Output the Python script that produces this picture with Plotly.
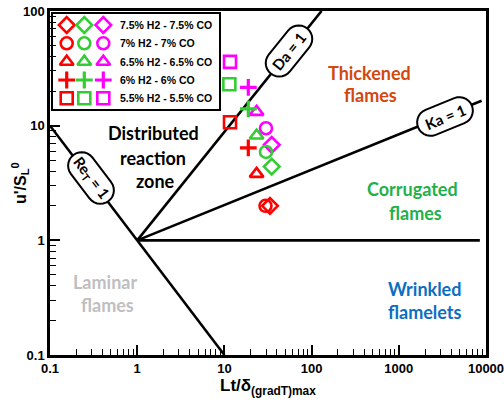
import math
import plotly.graph_objects as go

# ---------------- data ----------------
groups = ["7.5% H2 - 7.5% CO", "7% H2 - 7% CO", "6.5% H2 - 6.5% CO",
          "6% H2 - 6% CO", "5.5% H2 - 5.5% CO"]
symbols = ["diamond-open", "circle-open", "triangle-up-open", "cross-thin", "square-open"]
series_colors = ["#ff0000", "#33cc33", "#ff00ff"]  # red, green, magenta

# Lt/delta values for each group (red, green, magenta)
lt_vals = [
    [33.3, 34.9, 34.9],
    [29.6, 30.0, 30.0],
    [23.4, 23.4, 23.4],
    [18.8, 18.8, 18.8],
    [11.6, 11.4, 11.6],
]
# u'/SL values for each group (red, green, magenta)
u_vals = [
    [2.0, 4.4, 6.8],
    [2.0, 5.9, 9.5],
    [3.8, 8.2, 13.2],
    [6.4, 14.0, 21.6],
    [10.7, 23.0, 36.0],
]

# regime boundary lines
re_x, re_y = [0.1, 10], [10, 0.1]
da_x, da_y = [1, 130], [1, 100]
ka_x, ka_y = [1, 8900], [1, 16.5]
hz_x, hz_y = [1, 8500], [1, 1]

# ---------------- layout helpers ----------------
WIDTH, HEIGHT = 504, 405
ML, MR, MT, MB = 50, 18, 11, 50
PW = WIDTH - ML - MR
PH = HEIGHT - MT - MB


def px(x):
    return (x - ML) / PW


def py(y):
    return (MT + PH - y) / PH


def pill_path(cx, cy, length, height, angle_deg, n=14):
    r = height / 2.0
    a = length / 2.0 - r
    pts = []
    for i in range(n + 1):
        t = -math.pi / 2 + math.pi * i / n
        pts.append((a + r * math.cos(t), r * math.sin(t)))
    for i in range(n + 1):
        t = math.pi / 2 + math.pi * i / n
        pts.append((-a + r * math.cos(t), r * math.sin(t)))
    th = math.radians(angle_deg)
    out = []
    for (x, y) in pts:
        xr = x * math.cos(th) - y * math.sin(th) + cx
        yr = x * math.sin(th) + y * math.cos(th) + cy
        out.append((px(xr), py(yr)))
    d = "M " + " L ".join(f"{x:.5f},{y:.5f}" for x, y in out) + " Z"
    return d


def marker_style(sym, col):
    if sym == "cross-thin":
        return dict(symbol=sym, size=12, color=col, line=dict(color=col, width=3.2))
    return dict(symbol=sym, size=12, color=col, line=dict(color=col, width=2.6))


fig = go.Figure()

line_style = dict(color="black", width=2.6)
for lx, ly in [(re_x, re_y), (da_x, da_y), (ka_x, ka_y), (hz_x, hz_y)]:
    fig.add_trace(go.Scatter(x=lx, y=ly, mode="lines", line=line_style,
                             showlegend=False, hoverinfo="skip"))

for gi, g in enumerate(groups):
    for ci, col in enumerate(series_colors):
        fig.add_trace(go.Scatter(
            x=[lt_vals[gi][ci]], y=[u_vals[gi][ci]], mode="markers",
            marker=marker_style(symbols[gi], col), name=g, showlegend=False))

# custom legend (overlay axes in paper-like fractions)
leg_rows_y = [25, 43.3, 61.7, 80, 98.3]
leg_cols_x = [66.7, 84.3, 103.3]
for gi, g in enumerate(groups):
    for ci, col in enumerate(series_colors):
        fig.add_trace(go.Scatter(
            x=[px(leg_cols_x[ci])], y=[py(leg_rows_y[gi])], xaxis="x2", yaxis="y2",
            mode="markers", marker=marker_style(symbols[gi], col),
            showlegend=False, hoverinfo="skip"))

shapes = [
    dict(type="rect", xref="paper", yref="paper", x0=px(52), x1=px(220),
         y0=py(110), y1=py(13), line=dict(color="black", width=2),
         fillcolor="white", layer="below"),
]
boxes = [
    (91, 178, 58, 27, 52.7),
    (289, 51, 58, 27, -51.0),
    (445, 116.5, 58, 27, -22.1),
]
for cx, cy, ln, ht, ang in boxes:
    shapes.append(dict(type="path", xref="paper", yref="paper",
                       path=pill_path(cx, cy, ln, ht, ang),
                       line=dict(color="black", width=2), fillcolor="white", layer="above"))

FONT = "Lato, 'Open Sans', sans-serif"
annotations = []


def label(text, x, y, color, size=18, angle=0, fam=FONT, xanchor="center"):
    annotations.append(dict(text=text, x=px(x), y=py(y), xref="paper", yref="paper",
                            showarrow=False, textangle=angle, xanchor=xanchor, yanchor="middle",
                            font=dict(family=fam, size=size, color=color)))


label("<b>Re<sub>T</sub> = 1</b>", 91, 178, "black", size=15, angle=52.7)
label("<b>Da = 1</b>", 289, 51, "black", size=15, angle=-51.0)
label("<b>Ka = 1</b>", 445, 116.5, "black", size=15, angle=-22.1)

label("<b>Distributed</b>", 153, 133, "black")
label("<b>reaction</b>", 153, 158, "black")
label("<b>zone</b>", 155, 181, "black")
label("<b>Thickened</b>", 369, 73, "#d2480f")
label("<b>flames</b>", 370, 95, "#d2480f")
label("<b>Corrugated</b>", 412, 189, "#1fb14c")
label("<b>flames</b>", 415, 213, "#1fb14c")
label("<b>Laminar</b>", 105, 282, "#bfbfbf")
label("<b>flames</b>", 107, 305, "#bfbfbf")
label("<b>Wrinkled</b>", 424, 289, "#0a6fc2")
label("<b>flamelets</b>", 425, 312, "#0a6fc2")

ARIAL = "Liberation Sans, Arial, sans-serif"
for gi, g in enumerate(groups):
    label(f"<b>{g}</b>", 118, leg_rows_y[gi], "black", 10.5, fam=ARIAL, xanchor="left")

label("<b>u'/S<sub>L</sub><sup>0</sup></b>", 20, 183, "black", 16, angle=-90, fam=ARIAL)
label("<b>Lt/δ<sub>(gradT)max</sub></b>", 268, 387, "black", 17, fam=ARIAL)

axis_common = dict(type="log", showgrid=False, zeroline=False, showline=True,
                   linecolor="black", linewidth=2.5, mirror=True, automargin=False,
                   ticks="inside", ticklen=10, tickwidth=1.5, tickcolor="black",
                   ticklabeloverflow="allow",
                   tickfont=dict(family=ARIAL, size=13, color="black"),
                   minor=dict(ticks="inside", ticklen=6, tickwidth=1.2, tickcolor="black",
                              dtick="D1", showgrid=False))

fig.update_layout(
    width=WIDTH, height=HEIGHT,
    margin=dict(l=ML, r=MR, t=MT, b=MB, autoexpand=False),
    paper_bgcolor="white", plot_bgcolor="white",
    showlegend=False,
    xaxis=dict(range=[-1, 4], tickvals=[0.1, 1, 10, 100, 1000, 10000],
               ticktext=["<b>0.1</b>", "<b>1</b>", "<b>10</b>", "<b>100</b>", "<b>1000</b>", "<b>10000</b>"],
               **axis_common),
    yaxis=dict(range=[-1, 2], tickvals=[0.1, 1, 10, 100],
               ticktext=["<b>0.1</b>", "<b>1</b>", "<b>10</b>", "<b>100</b>"],
               **axis_common),
    xaxis2=dict(overlaying="x", range=[0, 1], visible=False, fixedrange=True),
    yaxis2=dict(overlaying="y", range=[0, 1], visible=False, fixedrange=True),
    shapes=shapes,
    annotations=annotations,
)

fig.write_html("out.html", config={"displayModeBar": False},
               post_script="document.body.style.margin='0';document.body.style.padding='0';")
